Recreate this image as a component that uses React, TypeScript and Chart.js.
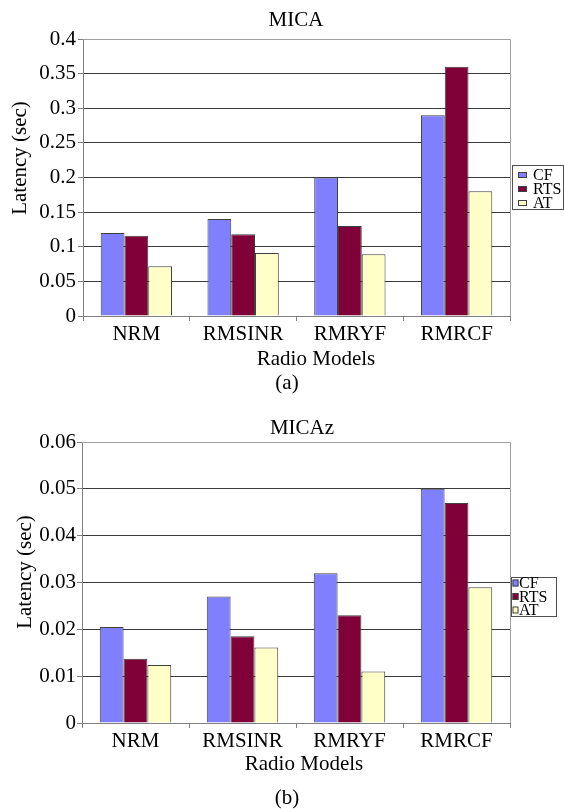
import React, { useEffect, useRef } from 'react';
import { Chart, registerables } from 'chart.js';

Chart.register(...registerables);

const FONT = '"Liberation Serif", "Times New Roman", serif';

const categories = ['NRM', 'RMSINR', 'RMRYF', 'RMRCF'];
const seriesNames = ['CF', 'RTS', 'AT'];
const seriesColors = ['#8080FF', '#800038', '#FFFFC8'];

const micaCF = [0.12, 0.14, 0.2, 0.29];
const micaRTS = [0.116, 0.118, 0.13, 0.36];
const micaAT = [0.072, 0.091, 0.089, 0.18];

const micazCF = [0.0205, 0.027, 0.032, 0.05];
const micazRTS = [0.0137, 0.0185, 0.023, 0.047];
const micazAT = [0.0124, 0.0161, 0.011, 0.029];

const yTickValuesA = [0, 0.05, 0.1, 0.15, 0.2, 0.25, 0.3, 0.35, 0.4];
const yTickLabelsA = ['0', '0.05', '0.1', '0.15', '0.2', '0.25', '0.3', '0.35', '0.4'];
const yTickValuesB = [0, 0.01, 0.02, 0.03, 0.04, 0.05, 0.06];
const yTickLabelsB = ['0', '0.01', '0.02', '0.03', '0.04', '0.05', '0.06'];

type Layout = {
  height: number;
  top: number;
  left: number;
  right: number;
  bottom: number;
  title: string;
  titlePos: [number, number];
  xTitlePos: [number, number];
  yTitlePos: [number, number];
  caption: string;
  captionPos: [number, number];
  legendBox: [number, number, number, number];
  legendSwatch: [number, number, number];
  legendTextX: number;
  legendRows: number[];
  yPad: number;
};

const layoutA: Layout = {
  height: 400,
  top: 39,
  left: 83,
  right: 510,
  bottom: 316,
  title: 'MICA',
  titlePos: [296, 20],
  xTitlePos: [316, 359],
  yTitlePos: [20, 158],
  caption: '(a)',
  captionPos: [287, 383],
  legendBox: [512, 165, 563, 209],
  legendSwatch: [518, 9, 6],
  legendTextX: 533,
  legendRows: [175, 189, 203],
  yPad: 2,
};

const layoutB: Layout = {
  height: 409,
  top: 42,
  left: 82,
  right: 510,
  bottom: 323,
  title: 'MICAz',
  titlePos: [302, 28],
  xTitlePos: [304, 364],
  yTitlePos: [25, 172],
  caption: '(b)',
  captionPos: [287, 398],
  legendBox: [511, 177, 556, 216],
  legendSwatch: [512.5, 6, 7],
  legendTextX: 519,
  legendRows: [183, 196.5, 210],
  yPad: 1,
};

function BarChart({ layout, data, tickValues, tickLabels, max }: {
  layout: Layout;
  data: number[][];
  tickValues: number[];
  tickLabels: string[];
  max: number;
}) {
  const ref = useRef<HTMLCanvasElement | null>(null);

  useEffect(() => {
    if (!ref.current) return;
    const L = layout;
    const decor = {
      id: 'decor',
      afterDraw(chart: any) {
        const ctx = chart.ctx;
        const ca = chart.chartArea;
        ctx.save();
        ctx.strokeStyle = '#a0a0a0';
        ctx.lineWidth = 1;
        ctx.beginPath();
        ctx.moveTo(ca.left, ca.top + 0.5);
        ctx.lineTo(ca.right + 0.5, ca.top + 0.5);
        ctx.lineTo(ca.right + 0.5, ca.bottom);
        ctx.stroke();

        ctx.fillStyle = '#000';
        ctx.textAlign = 'center';
        ctx.textBaseline = 'middle';
        ctx.font = `21px ${FONT}`;
        ctx.fillText(L.title, L.titlePos[0], L.titlePos[1]);
        ctx.fillText('Radio Models', L.xTitlePos[0], L.xTitlePos[1]);
        ctx.fillText(L.caption, L.captionPos[0], L.captionPos[1]);
        ctx.save();
        ctx.translate(L.yTitlePos[0], L.yTitlePos[1]);
        ctx.rotate(-Math.PI / 2);
        ctx.fillText('Latency (sec)', 0, 0);
        ctx.restore();

        const [x0, y0, x1, y1] = L.legendBox;
        ctx.strokeStyle = '#505050';
        ctx.strokeRect(x0 + 0.5, y0 + 0.5, x1 - x0, y1 - y0);
        ctx.font = `16px ${FONT}`;
        ctx.textAlign = 'left';
        chart.data.datasets.forEach((ds: any, i: number) => {
          const cy = L.legendRows[i];
          const [sx, sw, sh] = L.legendSwatch;
          ctx.fillStyle = ds.backgroundColor;
          ctx.fillRect(sx, cy - sh / 2, sw, sh);
          ctx.strokeStyle = '#404040';
          ctx.strokeRect(sx + 0.5, cy - sh / 2 + 0.5, sw - 1, sh - 1);
          ctx.fillStyle = '#000';
          ctx.fillText(ds.label, L.legendTextX, cy + 1);
        });
        ctx.restore();
      },
    };

    const chart = new Chart(ref.current, {
      type: 'bar',
      data: {
        labels: categories,
        datasets: seriesNames.map((name, i) => ({
          label: name,
          data: data[i],
          backgroundColor: seriesColors[i],
          borderColor: '#404040',
          borderWidth: 1,
          barPercentage: 1,
          categoryPercentage: 0.668,
        })),
      },
      options: {
        animation: false,
        responsive: false,
        maintainAspectRatio: false,
        layout: { padding: { left: 0, right: 564 - L.right, top: L.top, bottom: 0 } },
        plugins: {
          legend: { display: false },
          title: { display: false },
          tooltip: { enabled: false },
        },
        scales: {
          x: {
            grid: {
              display: true,
              offset: true,
              drawOnChartArea: false,
              drawTicks: true,
              tickLength: 5,
              color: '#808080',
            },
            border: { display: true, color: '#808080' },
            ticks: {
              color: '#000',
              font: { family: FONT, size: 21 },
              padding: 1,
              maxRotation: 0,
              autoSkip: false,
            },
            afterFit: (s: any) => { s.height = L.height - L.bottom; },
          },
          y: {
            min: 0,
            max,
            grid: {
              color: (c: any) => (c.index === tickValues.length - 1 ? '#a0a0a0' : '#3a3a3a'),
              tickColor: '#808080',
              tickLength: 5,
              drawTicks: true,
            },
            border: { display: true, color: '#808080' },
            ticks: {
              color: '#000',
              font: { family: FONT, size: 21 },
              padding: L.yPad,
              callback: (_v: any, i: number) => tickLabels[i],
            },
            afterBuildTicks: (s: any) => { s.ticks = tickValues.map((v) => ({ value: v })); },
            afterFit: (s: any) => { s.width = L.left; },
          },
        },
      },
      plugins: [decor],
    });
    return () => chart.destroy();
  }, [layout, data, tickValues, tickLabels, max]);

  return (
    <canvas
      ref={ref}
      width={564}
      height={layout.height}
      style={{ display: 'block', width: 564, height: layout.height }}
    />
  );
}

const dataA = [micaCF, micaRTS, micaAT];
const dataB = [micazCF, micazRTS, micazAT];

export default function App() {
  return (
    <div style={{ position: 'absolute', left: 0, top: 0, width: 564, height: 809, background: '#fff' }}>
      <BarChart layout={layoutA} data={dataA} tickValues={yTickValuesA} tickLabels={yTickLabelsA} max={0.4} />
      <BarChart layout={layoutB} data={dataB} tickValues={yTickValuesB} tickLabels={yTickLabelsB} max={0.06} />
    </div>
  );
}
